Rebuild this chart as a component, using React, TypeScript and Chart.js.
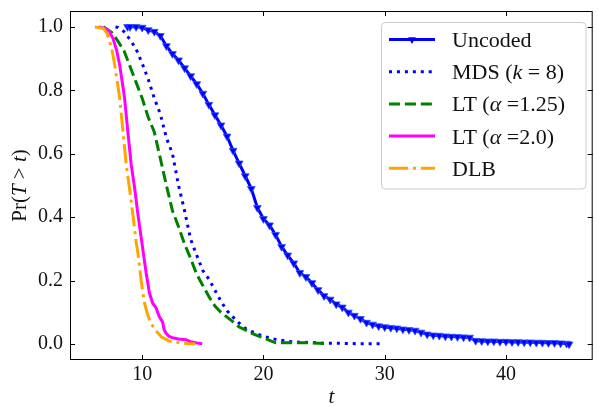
import React, { useEffect, useRef } from 'react';
import { Chart, registerables } from 'chart.js';

Chart.register(...registerables);

const FONT = '"Liberation Serif", "DejaVu Serif", serif';

// ---- axes ----
const xTicks = [10, 20, 30, 40];
const yTicks = [0.0, 0.2, 0.4, 0.6, 0.8, 1.0];
const xRange = [4.05, 47.15];
const yRange = [-0.05, 1.05];

// ---- series ----
const uncodedT = [8.8, 9.0, 9.5, 10.0, 10.5, 11.0, 11.5, 12.0, 12.5, 13.0, 13.5, 14.0, 14.5, 15.0, 15.5, 16.0, 16.5, 17.0, 17.5, 18.0, 18.5, 19.0, 19.5, 20.0, 20.5, 21.0, 21.5, 22.0, 22.5, 23.0, 23.5, 24.0, 24.5, 25.0, 25.5, 26.0, 26.5, 27.0, 27.5, 28.0, 28.5, 29.0, 29.5, 30.0, 30.5, 31.0, 31.5, 32.0, 32.5, 33.0, 33.5, 34.0, 34.5, 35.0, 35.5, 36.0, 36.5, 37.0, 37.5, 38.0, 38.5, 39.0, 39.5, 40.0, 40.5, 41.0, 41.5, 42.0, 42.5, 43.0, 43.5, 44.0, 44.5, 45.0, 45.2];
const uncodedP = [1.0, 1.0, 1.0, 0.998, 0.99, 0.985, 0.972, 0.94, 0.915, 0.895, 0.87, 0.845, 0.82, 0.79, 0.755, 0.722, 0.69, 0.655, 0.61, 0.57, 0.53, 0.49, 0.43, 0.395, 0.375, 0.345, 0.307, 0.28, 0.255, 0.225, 0.212, 0.193, 0.171, 0.152, 0.141, 0.126, 0.116, 0.1, 0.09, 0.08, 0.068, 0.062, 0.057, 0.054, 0.052, 0.05, 0.047, 0.045, 0.043, 0.037, 0.031, 0.028, 0.027, 0.025, 0.024, 0.023, 0.022, 0.021, 0.011, 0.01, 0.009, 0.009, 0.008, 0.008, 0.007, 0.007, 0.006, 0.006, 0.005, 0.005, 0.004, 0.004, 0.003, 0.002, 0.0];

const mdsT = [7.8, 8.0, 8.5, 9.0, 9.5, 10.0, 10.5, 11.0, 11.5, 12.0, 12.5, 13.0, 13.5, 14.0, 14.5, 15.0, 15.5, 16.0, 16.5, 17.0, 17.5, 18.0, 18.5, 19.0, 19.5, 20.0, 20.5, 21.0, 22.0, 23.0, 24.0, 25.0, 26.0, 27.0, 28.0, 29.7];
const mdsP = [1.0, 0.998, 0.985, 0.96, 0.93, 0.885, 0.835, 0.775, 0.725, 0.65, 0.6, 0.5, 0.42, 0.33, 0.28, 0.232, 0.205, 0.17, 0.135, 0.105, 0.085, 0.066, 0.05, 0.04, 0.032, 0.025, 0.02, 0.015, 0.009, 0.006, 0.005, 0.003, 0.003, 0.002, 0.001, 0.001];

const lt125T = [6.8, 7.0, 7.5, 8.0, 8.5, 9.0, 9.5, 10.0, 10.5, 11.0, 11.5, 12.0, 12.5, 13.0, 13.5, 14.0, 14.5, 15.0, 15.5, 16.0, 16.5, 17.0, 17.5, 18.0, 18.5, 19.0, 19.5, 20.0, 20.5, 21.0, 22.0, 23.0, 24.0, 25.0, 25.3];
const lt125P = [1.0, 0.995, 0.982, 0.955, 0.925, 0.875, 0.825, 0.775, 0.715, 0.669, 0.585, 0.5, 0.42, 0.37, 0.315, 0.27, 0.22, 0.185, 0.15, 0.12, 0.1, 0.085, 0.07, 0.054, 0.045, 0.035, 0.027, 0.02, 0.012, 0.004, 0.004, 0.004, 0.004, 0.002, 0.0];

const lt2T = [6.4, 7.0, 7.3, 7.6, 7.9, 8.15, 8.4, 8.55, 8.82, 9.1, 9.37, 9.64, 10.05, 10.33, 10.6, 10.87, 11.14, 11.41, 11.68, 11.82, 11.96, 12.2, 12.5, 13.0, 13.6, 14.0, 14.5, 14.95];
const lt2P = [1.0, 0.995, 0.985, 0.963, 0.925, 0.879, 0.815, 0.775, 0.669, 0.565, 0.495, 0.412, 0.3, 0.224, 0.161, 0.129, 0.115, 0.087, 0.07, 0.045, 0.035, 0.025, 0.02, 0.016, 0.014, 0.008, 0.004, 0.001];

const dlbT = [6.1, 6.8, 7.1, 7.33, 7.55, 7.74, 8.15, 8.42, 8.69, 8.96, 9.23, 9.51, 9.64, 9.92, 10.05, 10.19, 10.4, 10.6, 10.9, 11.14, 11.6, 12.23, 12.8, 13.32, 13.87, 14.4];
const dlbP = [1.0, 0.995, 0.98, 0.953, 0.92, 0.879, 0.775, 0.669, 0.565, 0.49, 0.41, 0.32, 0.29, 0.2, 0.165, 0.13, 0.1, 0.077, 0.055, 0.042, 0.022, 0.01, 0.006, 0.003, 0.001, 0.001];

type Part = { t: string; it?: boolean };
const legendLabels: Part[][] = [
  [{ t: 'Uncoded' }],
  [{ t: 'MDS (' }, { t: 'k', it: true }, { t: ' = 8)' }],
  [{ t: 'LT (' }, { t: 'α', it: true }, { t: ' =1.25)' }],
  [{ t: 'LT (' }, { t: 'α', it: true }, { t: ' =2.0)' }],
  [{ t: 'DLB' }],
];
const seriesColors = ['#0000ff', '#0000ff', '#008000', '#ff00ff', '#ffa500'];
const LW = 3;
const seriesDash: number[][] = [[], [1 * LW, 1.65 * LW], [3.7 * LW, 1.6 * LW], [], [6.4 * LW, 1.6 * LW, 1 * LW, 1.6 * LW]];

const yLabel: Part[] = [{ t: 'Pr(' }, { t: 'T', it: true }, { t: ' > ' }, { t: 't', it: true }, { t: ')' }];
const xLabel: Part[] = [{ t: 't', it: true }];

function pts(t: number[], p: number[]) {
  return t.map((v, i) => ({ x: v, y: p[i] }));
}

function richWidth(ctx: CanvasRenderingContext2D, parts: Part[], size: number) {
  let w = 0;
  for (const p of parts) {
    ctx.font = `${p.it ? 'italic ' : ''}${size}px ${FONT}`;
    w += ctx.measureText(p.t).width;
  }
  return w;
}
function drawRich(ctx: CanvasRenderingContext2D, parts: Part[], x: number, y: number, size: number) {
  let cx = x;
  for (const p of parts) {
    ctx.font = `${p.it ? 'italic ' : ''}${size}px ${FONT}`;
    ctx.fillText(p.t, cx, y);
    cx += ctx.measureText(p.t).width;
  }
}

function triDown(ctx: CanvasRenderingContext2D, x: number, y: number, r: number) {
  ctx.beginPath();
  ctx.moveTo(x, y + r);
  ctx.lineTo(x - r * 0.866, y - r * 0.5);
  ctx.lineTo(x + r * 0.866, y - r * 0.5);
  ctx.closePath();
  ctx.fill();
}

const decorPlugin = {
  id: 'decor',
  afterDraw(chart: any) {
    const { ctx, chartArea: a, scales } = chart;
    const xs = scales.x, ys = scales.y;
    ctx.save();
    // frame
    ctx.strokeStyle = '#000';
    ctx.lineWidth = 1;
    ctx.setLineDash([]);
    ctx.strokeRect(a.left + 0.5, a.top + 0.5, a.right - a.left - 1, a.bottom - a.top - 1);
    // inward ticks on all sides
    ctx.beginPath();
    for (const v of xTicks) {
      const px = Math.round(xs.getPixelForValue(v)) + 0.5;
      ctx.moveTo(px, a.bottom); ctx.lineTo(px, a.bottom - 5);
      ctx.moveTo(px, a.top); ctx.lineTo(px, a.top + 5);
    }
    for (const v of yTicks) {
      const py = Math.round(ys.getPixelForValue(v)) + 0.5;
      ctx.moveTo(a.left, py); ctx.lineTo(a.left + 5, py);
      ctx.moveTo(a.right, py); ctx.lineTo(a.right - 5, py);
    }
    ctx.stroke();

    // axis titles
    ctx.fillStyle = '#111';
    ctx.textBaseline = 'alphabetic';
    ctx.textAlign = 'left';
    const xw = richWidth(ctx, xLabel, 21);
    drawRich(ctx, xLabel, (a.left + a.right) / 2 - xw / 2, 403, 21);
    ctx.save();
    const cy = (a.top + a.bottom) / 2;
    ctx.translate(26, cy);
    ctx.rotate(-Math.PI / 2);
    const yw = richWidth(ctx, yLabel, 21);
    drawRich(ctx, yLabel, -yw / 2, 0, 21);
    ctx.restore();

    // legend
    const L = { x: 381.5, y: 22.5, w: 204.5, h: 166.5 };
    ctx.beginPath();
    ctx.roundRect(L.x, L.y, L.w, L.h, 4);
    ctx.fillStyle = 'rgba(255,255,255,0.8)';
    ctx.fill();
    ctx.strokeStyle = '#cccccc';
    ctx.lineWidth = 1;
    ctx.stroke();
    for (let i = 0; i < legendLabels.length; i++) {
      const ry = 39.5 + i * 32.2;
      ctx.strokeStyle = seriesColors[i];
      ctx.lineWidth = LW;
      ctx.lineCap = 'butt';
      ctx.setLineDash(seriesDash[i]);
      ctx.beginPath();
      ctx.moveTo(389, ry);
      ctx.lineTo(435, ry);
      ctx.stroke();
      ctx.setLineDash([]);
      if (i === 0) {
        ctx.fillStyle = seriesColors[0];
        triDown(ctx, 412, ry, 4.5);
      }
      ctx.fillStyle = '#111';
      drawRich(ctx, legendLabels[i], 452, ry + 7.5, 22);
    }
    ctx.restore();
  },
};

export default function App() {
  const ref = useRef<HTMLCanvasElement | null>(null);
  useEffect(() => {
    if (!ref.current) return;
    const mk = (i: number, t: number[], p: number[], label: string, extra: any = {}) => ({
      label,
      data: pts(t, p),
      borderColor: seriesColors[i],
      backgroundColor: seriesColors[i],
      borderWidth: LW,
      borderDash: seriesDash[i],
      borderCapStyle: 'butt',
      tension: 0,
      pointRadius: 0,
      ...extra,
    });
    const chart = new Chart(ref.current, {
      type: 'line',
      data: {
        datasets: [
          mk(4, dlbT, dlbP, 'DLB'),
          mk(3, lt2T, lt2P, 'LT2'),
          mk(2, lt125T, lt125P, 'LT125'),
          mk(1, mdsT, mdsP, 'MDS'),
          mk(0, uncodedT, uncodedP, 'Uncoded', {
            pointRadius: 4.5,
            pointStyle: 'triangle',
            rotation: 180,
            pointBorderWidth: 0.8,
            pointBorderColor: '#3355ff',
            pointBackgroundColor: '#0000ff',
          }),
        ],
      },
      options: {
        animation: false,
        responsive: false,
        devicePixelRatio: 1,
        layout: { padding: { left: 0, right: 1, top: 11, bottom: 0 } },
        plugins: { legend: { display: false }, tooltip: { enabled: false } },
        scales: {
          x: {
            type: 'linear',
            min: xRange[0],
            max: xRange[1],
            grid: { display: false, drawTicks: false },
            border: { display: false },
            afterBuildTicks: (s: any) => { s.ticks = xTicks.map((v) => ({ value: v })); },
            afterFit: (s: any) => { s.height = 47; s.paddingLeft = 0; s.paddingRight = 0; s.paddingTop = 0; s.paddingBottom = 0; },
            ticks: {
              color: '#111',
              font: { family: FONT, size: 20 },
              padding: 3,
              maxRotation: 0,
              callback: (v: any) => String(v),
            },
          },
          y: {
            type: 'linear',
            min: yRange[0],
            max: yRange[1],
            grid: { display: false, drawTicks: false },
            border: { display: false },
            afterBuildTicks: (s: any) => { s.ticks = yTicks.map((v) => ({ value: v })); },
            afterFit: (s: any) => { s.width = 70; s.paddingTop = 0; s.paddingBottom = 0; s.paddingLeft = 0; s.paddingRight = 0; },
            ticks: {
              color: '#111',
              font: { family: FONT, size: 20 },
              padding: 7,
              callback: (v: any) => Number(v).toFixed(1),
            },
          },
        },
      },
      plugins: [decorPlugin],
    } as any);
    return () => chart.destroy();
  }, []);
  return (
    <div style={{ position: 'fixed', left: 0, top: 0, width: 598, height: 407, background: '#fff' }}>
      <canvas ref={ref} width={598} height={407} style={{ display: 'block' }} />
    </div>
  );
}
